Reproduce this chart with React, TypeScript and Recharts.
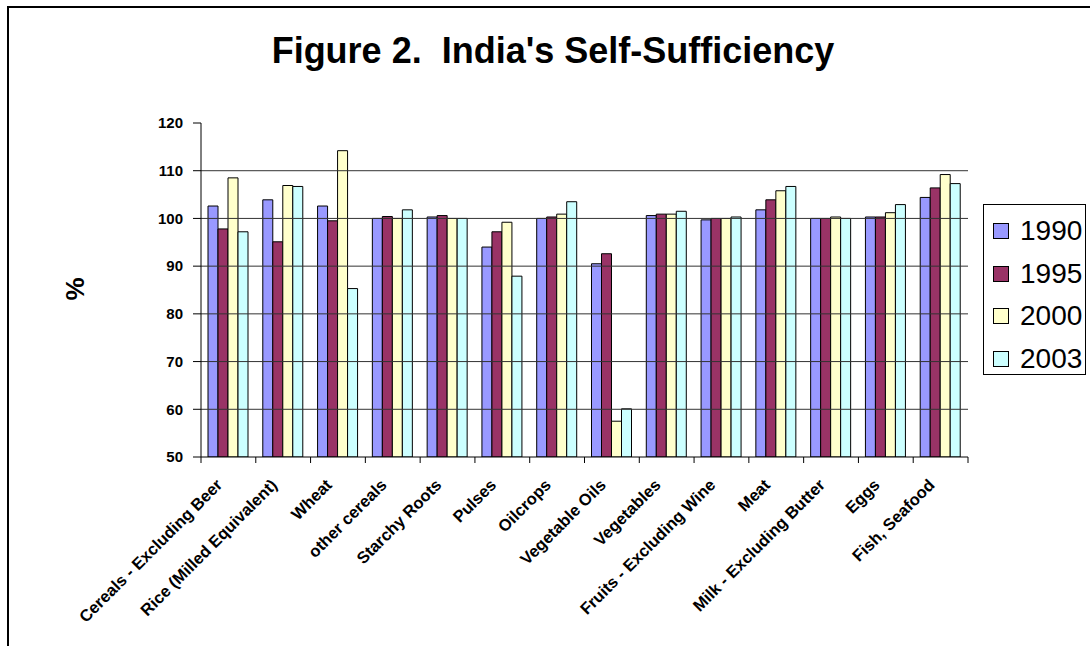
import React from 'react';
import { BarChart, Bar, XAxis, YAxis, ReferenceLine, Legend } from 'recharts';

const categories = [
  'Cereals - Excluding Beer',
  'Rice (Milled Equivalent)',
  'Wheat',
  'other cereals',
  'Starchy Roots',
  'Pulses',
  'Oilcrops',
  'Vegetable Oils',
  'Vegetables',
  'Fruits - Excluding Wine',
  'Meat',
  'Milk - Excluding Butter',
  'Eggs',
  'Fish, Seafood',
];
const v1990 = [102.6, 103.9, 102.6, 100.0, 100.3, 94.0, 100.0, 90.5, 100.6, 99.7, 101.8, 100.0, 100.3, 104.4];
const v1995 = [97.8, 95.1, 99.5, 100.4, 100.6, 97.2, 100.3, 92.6, 100.9, 100.0, 103.9, 100.0, 100.3, 106.4];
const v2000 = [108.5, 106.9, 114.2, 100.0, 100.0, 99.2, 100.9, 57.5, 100.9, 100.0, 105.8, 100.3, 101.2, 109.2];
const v2003 = [97.2, 106.7, 85.3, 101.8, 100.0, 87.9, 103.5, 60.1, 101.5, 100.3, 106.7, 100.0, 102.9, 107.3];
const yTicks = [50, 60, 70, 80, 90, 100, 110, 120];
const gridValues = [60, 70, 80, 90, 100, 110];
const seriesNames = ['1990', '1995', '2000', '2003'];
const seriesColors = ['#9999FF', '#993366', '#FFFFCC', '#CCFFFF'];
const seriesValues = [v1990, v1995, v2000, v2003];

const data = categories.map((c, i) => {
  const row: Record<string, string | number> = { name: c };
  seriesNames.forEach((s, k) => {
    row[s] = seriesValues[k][i];
  });
  return row;
});

const FONT = '"Liberation Sans", Arial, sans-serif';
const CHART_W = 1083;
const CHART_H = 640;
const MARGIN = { top: 117, right: 122, left: 134, bottom: 39 };
const YAXIS_W = 60;
const PLOT_W = CHART_W - MARGIN.left - MARGIN.right - YAXIS_W;
const BAND = PLOT_W / categories.length;

const XTick = (props: any) => {
  const { x, y, payload, index } = props;
  const half = BAND / 2;
  return (
    <g>
      <line x1={x - half} x2={x - half} y1={y} y2={y + 6} stroke="#000" strokeWidth={1} />
      {index === categories.length - 1 && (
        <line x1={x + half} x2={x + half} y1={y} y2={y + 6} stroke="#000" strokeWidth={1} />
      )}
      <text
        transform={`translate(${x - 5},${y + 29}) rotate(-45)`}
        textAnchor="end"
        fontSize={16.5}
        fontWeight="bold"
        fontFamily={FONT}
        fill="#000"
      >
        {payload.value}
      </text>
    </g>
  );
};

const LegendBox = () => (
  <div
    style={{
      width: 103,
      height: 171,
      border: '1px solid #000',
      boxSizing: 'border-box',
      background: '#fff',
      paddingTop: 5,
      fontFamily: FONT,
    }}
  >
    {seriesNames.map((s, i) => (
      <div key={s} style={{ height: 42.5, display: 'flex', alignItems: 'center', position: 'relative' }}>
        <div
          style={{
            position: 'absolute',
            left: 9,
            width: 16,
            height: 16,
            background: seriesColors[i],
            border: '1px solid #000',
            boxSizing: 'border-box',
          }}
        />
        <span style={{ position: 'absolute', left: 36, fontSize: 28, lineHeight: '28px', color: '#000' }}>{s}</span>
      </div>
    ))}
  </div>
);

export default function App() {
  return (
    <div style={{ position: 'absolute', left: 7, top: 6, width: CHART_W, height: CHART_H, background: '#fff', overflow: 'hidden' }}>
      <div
        style={{
          position: 'absolute',
          left: 0,
          top: 0,
          width: CHART_W,
          height: CHART_H,
          borderLeft: '2px solid #000',
          borderTop: '2px solid #000',
          boxSizing: 'border-box',
          pointerEvents: 'none',
        }}
      />
      <div
        style={{
          position: 'absolute',
          left: 0,
          width: 1092,
          top: 27,
          textAlign: 'center',
          fontFamily: FONT,
          fontWeight: 'bold',
          fontSize: 36,
          lineHeight: '36px',
          whiteSpace: 'pre',
          color: '#000',
        }}
      >
        {"Figure 2.  India's Self-Sufficiency"}
      </div>
      <div
        style={{
          position: 'absolute',
          left: 48,
          top: 268,
          width: 40,
          height: 30,
          textAlign: 'center',
          fontFamily: FONT,
          fontWeight: 'bold',
          fontSize: 26,
          lineHeight: '30px',
          transform: 'rotate(-90deg)',
          color: '#000',
        }}
      >
        %
      </div>
      <BarChart
        width={CHART_W}
        height={CHART_H}
        data={data}
        margin={MARGIN}
        barCategoryGap={7}
        barGap={0}
        style={{ position: 'absolute', left: 0, top: 0 }}
      >
        {gridValues.map((g) => (
          <ReferenceLine key={g} y={g} stroke="#333" strokeWidth={1} />
        ))}
        <XAxis
          dataKey="name"
          interval={0}
          tickLine={false}
          tickSize={0}
          tickMargin={0}
          height={150}
          axisLine={{ stroke: '#000' }}
          tick={<XTick />}
        />
        <YAxis
          width={YAXIS_W}
          domain={[50, 120]}
          ticks={yTicks}
          allowDataOverflow
          interval={0}
          axisLine={{ stroke: '#000' }}
          tickLine={{ stroke: '#000' }}
          tickSize={8}
          tickMargin={10}
          tick={{ fontSize: 15, fontWeight: 'bold', fill: '#000', fontFamily: FONT }}
        />
        <Legend
          layout="vertical"
          align="center"
          verticalAlign="middle"
          wrapperStyle={{ left: 976, top: 198, width: 103, height: 171 }}
          content={<LegendBox />}
        />
        {seriesNames.map((s, i) => (
          <Bar key={s} dataKey={s} fill={seriesColors[i]} stroke="#000" strokeWidth={1} isAnimationActive={false} />
        ))}
      </BarChart>
    </div>
  );
}
